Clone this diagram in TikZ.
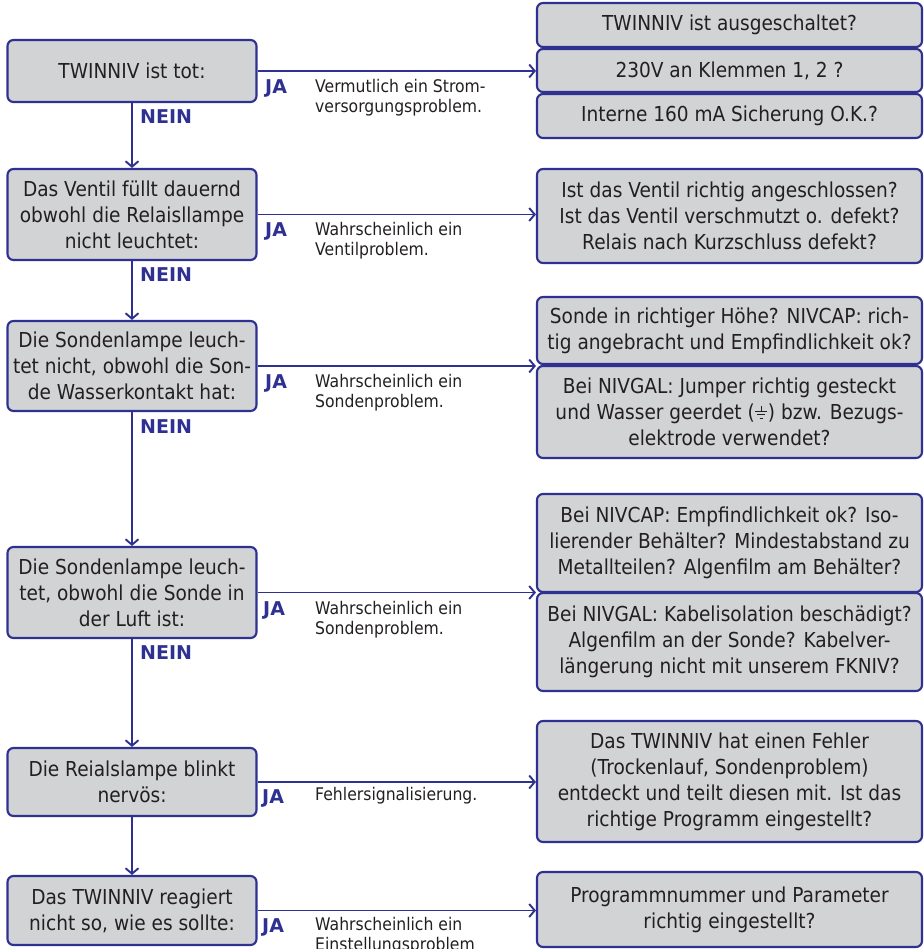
\documentclass[tikz,border=0pt]{standalone}
\usepackage{fontspec}
\setmainfont{DejaVu Sans}[FakeStretch=0.9]
\newfontfamily\lblfont{DejaVu Sans}
\usetikzlibrary{arrows.meta}
\definecolor{lineblue}{HTML}{2E3192}
\definecolor{boxgrey}{HTML}{D1D3D4}
\definecolor{txt}{HTML}{231F20}
\newcommand\gndsym{\tikz[baseline=0pt,x=1pt,y=1pt,line width=1.1pt]{\draw[txt] (0,14)--(0,8.5) (-6,8.5)--(6,8.5) (-4,4.8)--(4,4.8) (-1.8,1)--(1.8,1);}}
\begin{document}
\begin{tikzpicture}[x=1pt,y=-1pt,
  box/.style={draw=lineblue,fill=boxgrey,line width=2.1pt,rounded corners=6pt,text=txt,align=center,inner sep=0pt,font=\fontsize{20.6}{26}\selectfont},
  lbox/.style={box,minimum width=249pt},
  rbox/.style={box,minimum width=385pt},
  conn/.style={draw=lineblue,line width=1.9pt,-{Straight Barb[length=5.5pt,width=13pt,line width=1.9pt]}},
  yes/.style={text=lineblue,font=\lblfont\bfseries\fontsize{19}{22}\selectfont,inner sep=0pt,anchor=west},
  desc/.style={text=txt,align=left,anchor=north west,inner sep=0pt,font=\fontsize{17.4}{20.5}\selectfont}]
\useasboundingbox (0,0) rectangle (923,949);

% left column
\node[lbox,minimum height=62pt] (L1) at (132,71) {TWINNIV ist tot:};
\node[lbox,minimum height=91pt] (L2) at (132,214.5) {Das Ventil füllt dauernd\\obwohl die Relaisllampe\\nicht leuchtet:};
\node[lbox,minimum height=90pt] (L3) at (132,366) {Die Sondenlampe leuch-\\tet nicht, obwohl die Son-\\de Wasserkontakt hat:};
\node[lbox,minimum height=91pt] (L4) at (132,592.5) {Die Sondenlampe leuch-\\tet, obwohl die Sonde in\\der Luft ist:};
\node[lbox,minimum height=68pt] (L5) at (132,782) {Die Reialslampe blinkt\\nervös:};
\node[lbox,minimum height=69pt] (L6) at (132,910.5) {Das TWINNIV reagiert\\nicht so, wie es sollte:};

% right column
\node[rbox,minimum height=44pt] (R1a) at (729.5,25) {TWINNIV ist ausgeschaltet?};
\node[rbox,minimum height=43pt] (R1b) at (729.5,70.5) {230V an Klemmen 1, 2 ?};
\node[rbox,minimum height=44pt] (R1c) at (729.5,116) {Interne 160 mA Sicherung O.K.?};
\node[rbox,minimum height=94pt] (R2) at (729.5,216) {Ist das Ventil richtig angeschlossen?\\Ist das Ventil verschmutzt o. defekt?\\Relais nach Kurzschluss defekt?};
\node[rbox,minimum height=67pt] (R3a) at (729.5,330.5) {Sonde in richtiger Höhe? NIVCAP: rich-\\tig angebracht und Empfindlichkeit ok?};
\node[rbox,minimum height=92pt] (R3b) at (729.5,412) {Bei NIVGAL: Jumper richtig gesteckt\\und Wasser geerdet (\gndsym) bzw. Bezugs-\\elektrode verwendet?};
\node[rbox,minimum height=98pt] (R4a) at (729.5,543) {Bei NIVCAP: Empfindlichkeit ok? Iso-\\lierender Behälter? Mindestabstand zu\\Metallteilen? Algenfilm am Behälter?};
\node[rbox,minimum height=98pt] (R4b) at (729.5,642) {Bei NIVGAL: Kabelisolation beschädigt?\\Algenfilm an der Sonde? Kabelver-\\längerung nicht mit unserem FKNIV?};
\node[rbox,minimum height=121pt] (R5) at (729.5,781.5) {Das TWINNIV hat einen Fehler\\(Trockenlauf, Sondenproblem)\\entdeckt und teilt diesen mit. Ist das\\richtige Programm eingestellt?};
\node[rbox,minimum height=75pt] (R6) at (729.5,909.5) {Programmnummer und Parameter\\richtig eingestellt?};

% NEIN connectors
\draw[conn] (L1.south) -- (L2.north);
\draw[conn] (L2.south) -- (L3.north);
\draw[conn] (L3.south) -- (L4.north);
\draw[conn] (L4.south) -- (L5.north);
\draw[conn] (L5.south) -- (L6.north);

% JA connectors
\draw[conn] (L1.east) -- (L1.east -| R1b.west);
\draw[conn] (L2.east) -- (L2.east -| R2.west);
\draw[conn] (L3.east) -- (L3.east -| R3a.west);
\draw[conn] (L4.east) -- (L4.east -| R4a.west);
\draw[conn] (L5.east) -- (L5.east -| R5.west);
\draw[conn] (L6.east) -- (L6.east -| R6.west);

% labels
\node[yes] (N1) at (140,117) {NEIN};
\node[yes] (N2) at (140,275) {NEIN};
\node[yes] (N3) at (140,427) {NEIN};
\node[yes] (N4) at (140,653) {NEIN};

\node[yes] (J1) at (265,88) {JA};
\node[yes] (J2) at (265,231) {JA};
\node[yes] (J3) at (265,383) {JA};
\node[yes] (J4) at (263,610) {JA};
\node[yes] (J5) at (262,798) {JA};
\node[yes] (J6) at (262,927) {JA};

\node[desc] (D1) at (315,79) {Vermutlich ein Strom-\\versorgungsproblem.};
\node[desc] (D2) at (315,222) {Wahrscheinlich ein\\Ventilproblem.};
\node[desc] (D3) at (315,374) {Wahrscheinlich ein\\Sondenproblem.};
\node[desc] (D4) at (315,601) {Wahrscheinlich ein\\Sondenproblem.};
\node[desc] (D5) at (315,787) {Fehlersignalisierung.};
\node[desc] (D6) at (315,917) {Wahrscheinlich ein\\Einstellungsproblem};
\end{tikzpicture}
\end{document}
